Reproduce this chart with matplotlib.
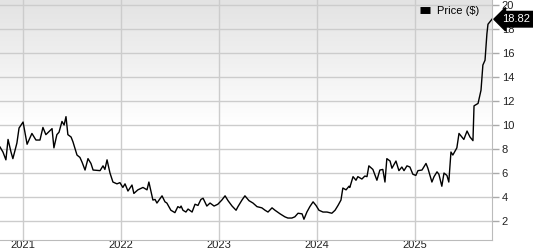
import numpy as np
import pandas as pd
import matplotlib
matplotlib.use("Agg")
import matplotlib.pyplot as plt

plt.rcParams['font.family'] = ['Liberation Sans', 'DejaVu Sans']

dates = ["2020-10-07", "2020-10-18", "2020-10-29", "2020-11-06", "2020-11-17", "2020-11-24",
         "2020-12-09", "2020-12-17", "2021-01-01", "2021-01-16", "2021-02-03", "2021-02-18",
         "2021-03-05", "2021-03-16", "2021-03-27", "2021-04-19", "2021-04-26", "2021-05-07",
         "2021-05-15", "2021-05-26", "2021-06-03", "2021-06-10", "2021-06-17", "2021-06-29",
         "2021-07-06", "2021-07-21", "2021-08-01", "2021-08-09", "2021-08-20", "2021-08-31",
         "2021-09-11", "2021-09-19", "2021-10-15", "2021-10-26", "2021-11-02", "2021-11-10",
         "2021-11-21", "2021-12-02", "2021-12-17", "2021-12-28", "2022-01-08", "2022-01-16",
         "2022-01-27", "2022-02-11", "2022-02-18", "2022-03-05", "2022-03-24", "2022-04-08",
         "2022-04-15", "2022-04-30", "2022-05-08", "2022-05-15", "2022-06-03", "2022-06-14",
         "2022-06-21", "2022-07-06", "2022-07-21", "2022-08-01", "2022-08-09", "2022-08-13",
         "2022-08-20", "2022-08-31", "2022-09-08", "2022-09-23", "2022-10-04", "2022-10-15",
         "2022-10-26", "2022-11-03", "2022-11-17", "2022-11-29", "2022-12-14", "2022-12-28",
         "2023-01-12", "2023-01-24", "2023-02-04", "2023-02-19", "2023-03-06", "2023-03-13",
         "2023-03-28", "2023-04-08", "2023-04-23", "2023-05-08", "2023-05-23", "2023-06-10",
         "2023-06-22", "2023-07-03", "2023-07-18", "2023-07-29", "2023-08-17", "2023-09-04",
         "2023-09-15", "2023-09-30", "2023-10-11", "2023-10-23", "2023-11-07", "2023-11-14",
         "2023-11-25", "2023-12-06", "2023-12-18", "2023-12-29", "2024-01-09", "2024-01-24",
         "2024-02-08", "2024-02-26", "2024-03-09", "2024-03-20", "2024-03-31", "2024-04-07",
         "2024-04-19", "2024-04-30", "2024-05-03", "2024-05-15", "2024-05-26", "2024-06-02",
         "2024-06-17", "2024-06-28", "2024-07-06", "2024-07-13", "2024-07-28", "2024-08-12",
         "2024-08-23", "2024-09-03", "2024-09-11", "2024-09-18", "2024-09-30", "2024-10-07",
         "2024-10-22", "2024-11-02", "2024-11-13", "2024-11-21", "2024-12-02", "2024-12-13",
         "2024-12-24", "2025-01-04", "2025-01-12", "2025-01-27", "2025-02-11", "2025-02-18",
         "2025-03-05", "2025-03-13", "2025-03-24", "2025-03-31", "2025-04-11", "2025-04-19",
         "2025-04-30", "2025-05-07", "2025-05-15", "2025-05-22", "2025-06-06", "2025-06-14",
         "2025-06-25", "2025-07-02", "2025-07-14", "2025-07-25", "2025-08-05", "2025-08-09",
         "2025-08-24", "2025-09-04", "2025-09-11", "2025-09-19", "2025-09-26", "2025-09-30",
         "2025-10-15"]

prices = [8.17, 7.75, 7.1, 8.8, 7.75, 7.2,
          8.5, 9.75, 10.25, 8.4, 9.3, 8.75,
          8.75, 9.8, 9.2, 9.7, 8.1, 9.2,
          9.4, 10.3, 10.0, 10.7, 9.2, 9.0,
          8.6, 7.5, 7.3, 6.9, 6.25, 7.2,
          6.8, 6.25, 6.2, 6.6, 6.3, 7.1,
          6.0, 5.25, 5.1, 5.2, 4.8, 5.1,
          4.5, 5.0, 4.3, 4.6, 4.8, 4.6,
          5.25, 3.75, 3.8, 3.5, 4.1, 3.6,
          3.5, 2.9, 2.7, 3.2, 3.1, 3.25,
          2.9, 2.75, 3.0, 2.75, 3.4, 3.3,
          3.8, 3.9, 3.25, 3.5, 3.25, 3.4,
          3.75, 4.1, 3.7, 3.25, 2.9, 3.2,
          3.75, 4.1, 3.7, 3.5, 3.2, 3.1,
          2.9, 2.75, 3.1, 2.9, 2.6, 2.35,
          2.25, 2.25, 2.35, 2.65, 2.6, 2.15,
          2.75, 3.2, 3.6, 3.3, 2.9, 2.75,
          2.75, 2.65, 2.9, 3.3, 3.75, 4.75,
          4.6, 4.9, 4.8, 5.7, 5.4, 5.7,
          5.5, 5.75, 5.7, 6.6, 6.3, 5.4,
          6.25, 6.3, 5.25, 7.2, 7.0, 6.4,
          7.0, 6.2, 6.5, 6.2, 6.6, 6.5,
          5.9, 5.8, 6.2, 6.25, 6.8, 6.4,
          5.25, 5.7, 6.1, 5.9, 4.9, 6.0,
          5.8, 5.25, 7.75, 7.5, 8.1, 9.3,
          9.0, 8.8, 9.5, 9.0, 8.7, 11.6,
          11.8, 12.9, 15.0, 15.4, 17.6, 18.4,
          18.82]

year_ticks = ["2021-01-01", "2022-01-01", "2023-01-01", "2024-01-01", "2025-01-01"]
year_labels = ["2021", "2022", "2023", "2024", "2025"]
y_ticks = [2, 4, 6, 8, 10, 12, 14, 16, 18, 20]

x = pd.to_datetime(dates)
last = prices[-1]

fig = plt.figure(figsize=(5.33, 2.5), dpi=100)
ax = fig.add_axes([0, 0.04, 492 / 533, 0.96])

# grey-to-white background gradient
grad = np.linspace(0, 1, 256).reshape(-1, 1)
grad = np.clip(grad * 1.9, 0, 1)
ax.imshow(grad, extent=[0, 1, 0, 1], transform=ax.transAxes, aspect="auto",
          cmap=matplotlib.colors.LinearSegmentedColormap.from_list("bg", ["#e3e3e3", "#ffffff"]),
          origin="upper", zorder=0)

ax.plot(x, prices, color="black", lw=1.0, zorder=3, label="Price ($)")

ax.set_xlim(x[0], x[-1])
ax.set_ylim(0.42, 20.42)

ax.set_xticks(pd.to_datetime(year_ticks))
ax.set_xticklabels(year_labels)
ax.set_yticks(y_ticks)
ax.yaxis.tick_right()
ax.grid(True, color="#cccccc", lw=1, zorder=1)
ax.set_axisbelow(True)

ax.tick_params(axis="x", length=0, labelsize=8, pad=0, colors="#222222")
ax.tick_params(axis="y", length=5, width=1, color="#aaaaaa", labelsize=8, pad=2,
               labelcolor="#222222")
for s in ["left", "top"]:
    ax.spines[s].set_visible(False)
for s in ["right", "bottom"]:
    ax.spines[s].set_color("#bbbbbb")

leg = ax.legend(loc="upper right", bbox_to_anchor=(0.985, 1.0), frameon=False, fontsize=8,
                handlelength=0.9, handleheight=0.5, borderaxespad=0.1, handletextpad=0.6)
for h in leg.legend_handles:
    h.set_linewidth(5)
    h.set_solid_capstyle("butt")

ax.annotate(f"{last:.2f}", xy=(1.0, last), xycoords=("axes fraction", "data"),
            xytext=(7.5, 0), textcoords="offset points", ha="left", va="center",
            color="white", fontsize=8, annotation_clip=False,
            bbox=dict(boxstyle="larrow,pad=0.25", fc="black", ec="black"))

fig.savefig("out.png", dpi=100)
